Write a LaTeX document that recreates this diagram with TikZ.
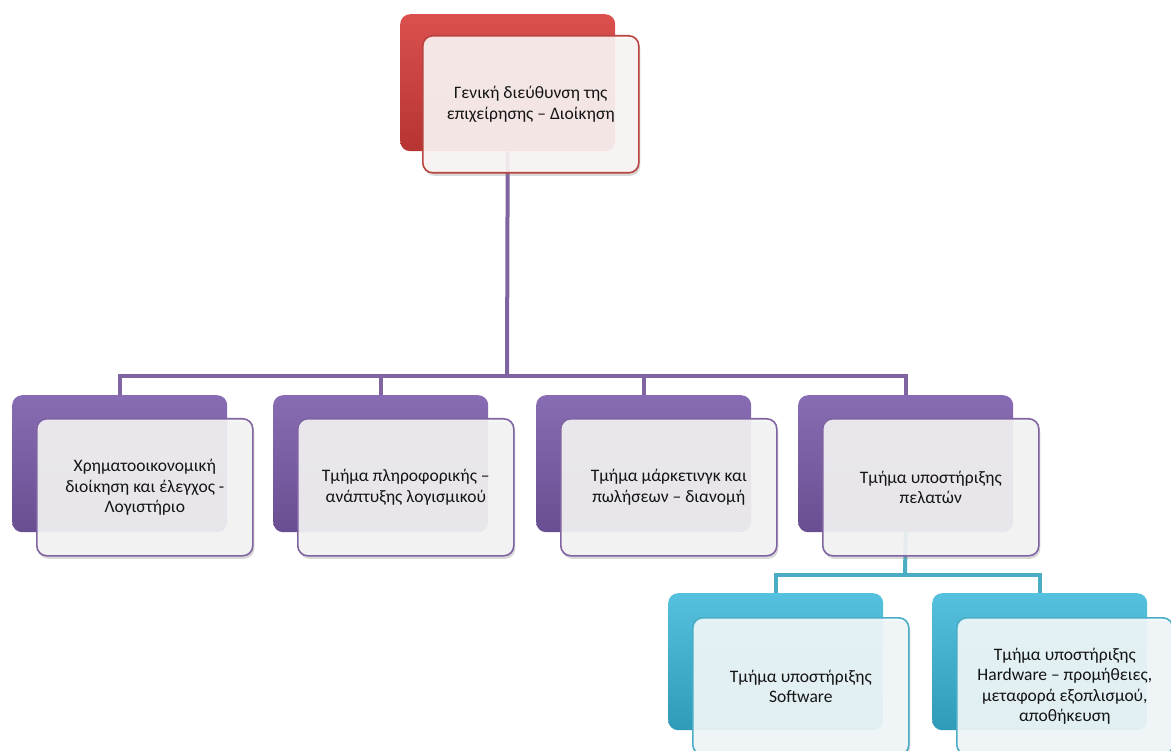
\documentclass[tikz,border=0pt]{standalone}
\usepackage{fontspec}
\setmainfont{Carlito}
\usetikzlibrary{shadows}
\definecolor{redM}{HTML}{D63D3A}
\definecolor{redE}{HTML}{B8433F}
\definecolor{purM}{HTML}{7B5CAB}
\definecolor{purE}{HTML}{8064A2}
\definecolor{cyaM}{HTML}{38B6D8}
\definecolor{cyaE}{HTML}{4BACC6}
\definecolor{txt}{HTML}{141414}
\tikzset{
  backbox/.style={rounded corners=10pt, minimum width=215pt, minimum height=137pt, anchor=north west, inner sep=0pt},
  frontbox/.style={rounded corners=10pt, minimum width=216pt, minimum height=137pt, anchor=north west, inner sep=0pt,
     line width=1.6pt, fill opacity=0.9, text opacity=1, align=center, text=txt,
     font=\fontsize{17.5}{20.5}\selectfont,
     drop shadow={opacity=0.3, shadow xshift=1.5pt, shadow yshift=-3pt}},
  redback/.style={backbox, top color=redM!90!white, middle color=redM, bottom color=redM!85!black},
  purback/.style={backbox, top color=purM!90!white, middle color=purM, bottom color=purM!85!black},
  cyaback/.style={backbox, top color=cyaM!85!white, middle color=cyaM, bottom color=cyaM!85!black},
  redfront/.style={frontbox, draw=redE, fill=redE!5},
  purfront/.style={frontbox, draw=purE, fill=black!4},
  cyafront/.style={frontbox, draw=cyaE, fill=cyaE!7},
  purline/.style={draw=purE, line width=4pt, line join=miter},
  cyaline/.style={draw=cyaE, line width=4pt, line join=miter}
}
\begin{document}
\begin{tikzpicture}[x=1pt,y=-1pt]
\useasboundingbox (0,0) rectangle (1171,751);
\coordinate (j0) at (507,376);
\coordinate (j1) at (905,575);
% back boxes
\path (400,14) node[redback] (b0) {};
\path (12,395) node[purback] (b1) {};
\path (273,395) node[purback] (b2) {};
\path (536,395) node[purback] (b3) {};
\path (798,395) node[purback] (b4) {};
\path (668,593) node[cyaback] (b5) {};
\path (932,593) node[cyaback] (b6) {};
% connectors
\draw[purline] (b0.south) -- (j0);
\draw[purline] (j0) -| (b1.north);
\draw[purline] (j0) -| (b2.north);
\draw[purline] (j0) -| (b3.north);
\draw[purline] (j0) -| (b4.north);
\draw[cyaline] (b4.south) -- (j1);
\draw[cyaline] (j1) -| (b5.north);
\draw[cyaline] (j1) -| (b6.north);
% front boxes
\node[redfront] (f0) at (422,35) {Γενική διεύθυνση της\\επιχείρησης – Διοίκηση};
\node[purfront] (f1) at (36,418) {Χρηματοοικονομική\\διοίκηση και έλεγχος -\\Λογιστήριο};
\node[purfront] (f2) at (297,418) {Τμήμα πληροφορικής –\\ανάπτυξης λογισμικού};
\node[purfront] (f3) at (560,418) {Τμήμα μάρκετινγκ και\\πωλήσεων – διανομή};
\node[purfront] (f4) at (822,418) {Τμήμα υποστήριξης\\πελατών};
\node[cyafront] (f5) at (692,617) {Τμήμα υποστήριξης\\Software};
\node[cyafront] (f6) at (956,617) {Τμήμα υποστήριξης\\Hardware – προμήθειες,\\μεταφορά εξοπλισμού,\\αποθήκευση};
\end{tikzpicture}
\end{document}
